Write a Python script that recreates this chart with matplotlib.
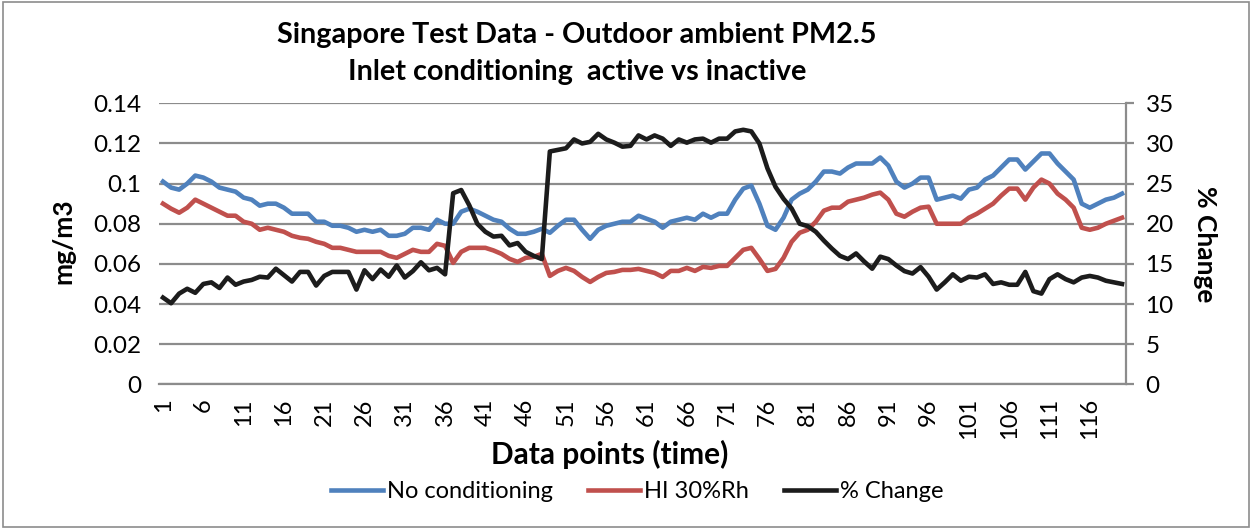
import matplotlib.pyplot as plt
from matplotlib.patches import Rectangle

# values, points 1..120
no_cond = [0.101, 0.098, 0.097, 0.100, 0.104, 0.103, 0.101, 0.098, 0.097, 0.096,
           0.093, 0.092, 0.089, 0.090, 0.090, 0.088, 0.085, 0.085, 0.085, 0.081,
           0.081, 0.079, 0.079, 0.078, 0.076, 0.077, 0.076, 0.077, 0.074, 0.074,
           0.075, 0.078, 0.078, 0.077, 0.082, 0.080, 0.080, 0.086, 0.0875, 0.086,
           0.084, 0.082, 0.081, 0.0775, 0.075, 0.075, 0.076, 0.0775, 0.0755, 0.079,
           0.082, 0.082, 0.077, 0.0725, 0.077, 0.079, 0.080, 0.081, 0.081, 0.084,
           0.0825, 0.081, 0.078, 0.081, 0.082, 0.083, 0.082, 0.085, 0.083, 0.085,
           0.085, 0.092, 0.0975, 0.099, 0.090, 0.079, 0.077, 0.083, 0.092, 0.095,
           0.097, 0.101, 0.106, 0.106, 0.105, 0.108, 0.110, 0.110, 0.110, 0.113,
           0.109, 0.101, 0.098, 0.100, 0.103, 0.103, 0.092, 0.093, 0.094, 0.0925,
           0.097, 0.098, 0.102, 0.104, 0.108, 0.112, 0.112, 0.107, 0.111, 0.115,
           0.115, 0.110, 0.106, 0.102, 0.090, 0.088, 0.090, 0.092, 0.093, 0.095]

hi_30rh = [0.090, 0.0875, 0.0855, 0.088, 0.092, 0.090, 0.088, 0.086, 0.084, 0.084,
           0.081, 0.080, 0.077, 0.078, 0.077, 0.076, 0.074, 0.073, 0.0725, 0.071,
           0.070, 0.068, 0.068, 0.067, 0.066, 0.066, 0.066, 0.066, 0.064, 0.063,
           0.065, 0.067, 0.066, 0.066, 0.070, 0.069, 0.0605, 0.066, 0.068, 0.068,
           0.068, 0.0667, 0.065, 0.0625, 0.061, 0.063, 0.0635, 0.065, 0.054, 0.0565,
           0.058, 0.0565, 0.0535, 0.051, 0.0535, 0.0555, 0.056, 0.057, 0.057, 0.0575,
           0.0565, 0.0555, 0.0535, 0.0565, 0.0565, 0.058, 0.0565, 0.0585, 0.058, 0.059,
           0.059, 0.063, 0.067, 0.068, 0.0625, 0.0565, 0.0575, 0.063, 0.071, 0.0755,
           0.077, 0.081, 0.0865, 0.088, 0.088, 0.091, 0.092, 0.093, 0.0945, 0.0955,
           0.092, 0.085, 0.0835, 0.086, 0.088, 0.0885, 0.080, 0.080, 0.080, 0.080,
           0.083, 0.085, 0.0875, 0.090, 0.094, 0.0975, 0.0975, 0.092, 0.098, 0.102,
           0.100, 0.095, 0.092, 0.088, 0.078, 0.077, 0.078, 0.080, 0.0815, 0.083]

pct_change = [10.8, 10.1, 11.3, 11.9, 11.4, 12.5, 12.7, 12.0, 13.3, 12.4,
              12.8, 13.0, 13.4, 13.3, 14.4, 13.6, 12.8, 14.0, 14.0, 12.3,
              13.5, 14.0, 14.0, 14.0, 11.8, 14.2, 13.1, 14.3, 13.4, 14.8,
              13.3, 14.1, 15.2, 14.2, 14.5, 13.7, 23.8, 24.2, 22.3, 20.0,
              19.0, 18.4, 18.5, 17.3, 17.6, 16.5, 16.0, 15.6, 29.0, 29.2,
              29.4, 30.5, 30.0, 30.2, 31.2, 30.5, 30.1, 29.6, 29.7, 31.0,
              30.5, 31.0, 30.6, 29.7, 30.5, 30.1, 30.5, 30.6, 30.1, 30.6,
              30.6, 31.5, 31.7, 31.5, 30.0, 26.9, 24.6, 23.1, 21.9, 20.0,
              19.7, 19.0, 17.9, 16.9, 16.0, 15.6, 16.3, 15.3, 14.4, 15.9,
              15.6, 14.8, 14.1, 13.8, 14.6, 13.4, 11.8, 12.7, 13.7, 12.9,
              13.4, 13.3, 13.7, 12.5, 12.7, 12.4, 12.4, 14.0, 11.6, 11.3,
              13.1, 13.7, 13.1, 12.7, 13.3, 13.5, 13.3, 12.9, 12.7, 12.5]

points = list(range(1, len(no_cond) + 1))
xtick_pos = list(range(1, 120, 5))
left_ticks = [0, 0.02, 0.04, 0.06, 0.08, 0.1, 0.12, 0.14]
left_labels = ['0', '0.02', '0.04', '0.06', '0.08', '0.1', '0.12', '0.14']
right_ticks = [0, 5, 10, 15, 20, 25, 30, 35]

plt.rcParams['font.family'] = ['Lato', 'DejaVu Sans']
grid_col = '#8c8c8c'

fig = plt.figure(figsize=(12.52, 5.29), dpi=100)
ax = fig.add_axes([0.127, 0.2735, 0.7724, 0.5312])
ax2 = ax.twinx()

l1, = ax.plot(points, no_cond, color='#4f81bd', lw=3.3, label='No conditioning')
l2, = ax.plot(points, hi_30rh, color='#c0504d', lw=3.3, label='HI 30%Rh')
l3, = ax2.plot(points, pct_change, color='#1c1c1c', lw=3.3, label='% Change')

ax.set_xlim(0.5, 120.5)
ax.set_ylim(0, 0.14)
ax2.set_ylim(0, 35)
ax.set_yticks(left_ticks)
ax.set_yticklabels(left_labels)
ax2.set_yticks(right_ticks)
ax.set_xticks(xtick_pos)
ax.set_xticklabels([str(p) for p in xtick_pos], rotation=90, va='top')

ax.yaxis.grid(True, color=grid_col, lw=1.6)
ax.set_axisbelow(True)
for s in ['top', 'left']:
    ax.spines[s].set_visible(False)
    ax2.spines[s].set_visible(False)
ax.spines['right'].set_visible(False)
ax2.spines['right'].set_color(grid_col)
ax2.spines['right'].set_linewidth(1.6)
ax.spines['bottom'].set_color(grid_col)
ax.spines['bottom'].set_linewidth(1.6)
ax2.spines['bottom'].set_visible(False)

ax.tick_params(axis='y', length=0, labelsize=17.5, pad=13)
ax.tick_params(axis='x', length=0, labelsize=17, pad=10)
ax2.tick_params(axis='y', length=6, width=1.6, color=grid_col, labelsize=17.5, pad=8)

ax.set_ylabel('mg/m3', fontsize=19, fontweight='bold')
ax.yaxis.set_label_coords(-0.086, 0.51)
ax2.set_ylabel('% Change', fontsize=19, fontweight='bold', rotation=270, va='center')
ax2.yaxis.set_label_coords(1.082, 0.5)

fig.text(0.487, 0.14, 'Data points (time)', ha='center', va='center',
         fontsize=21.5, fontweight='bold')

fig.text(0.461, 0.933, 'Singapore Test Data - Outdoor ambient PM2.5',
         ha='center', va='center', fontsize=20.7, fontweight='bold')
fig.text(0.461, 0.863, 'Inlet conditioning  active vs inactive',
         ha='center', va='center', fontsize=20.7, fontweight='bold')

fig.legend(handles=[l1, l2, l3], loc='center', bbox_to_anchor=(0.509, 0.07),
           ncol=3, frameon=False, fontsize=17, handlelength=2.2,
           handletextpad=0.15, columnspacing=1.5)

fig.patches.append(Rectangle((0.002, 0.004), 0.996, 0.992, transform=fig.transFigure,
                             fill=False, edgecolor='#8c8c8c', lw=1.2))

fig.savefig('out.png', dpi=100)
